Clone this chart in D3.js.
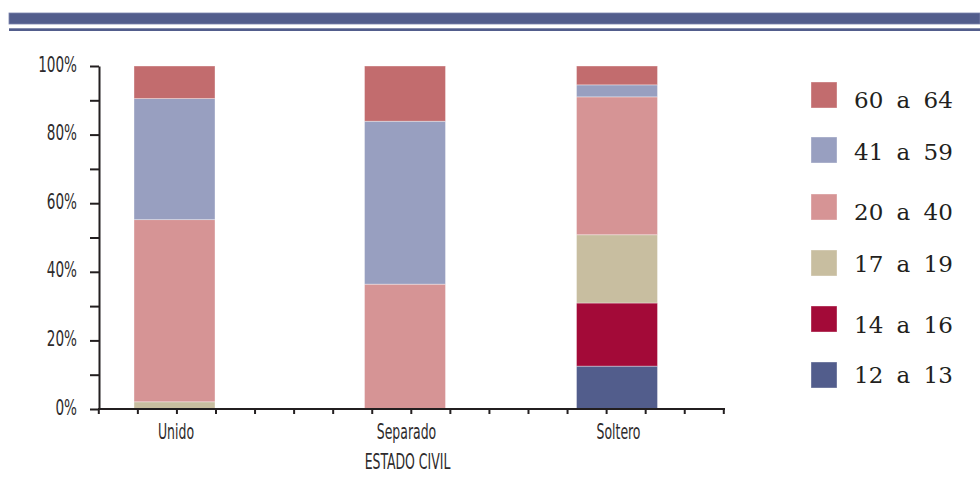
<!DOCTYPE html>
<html>
<head>
<meta charset="utf-8">
<script src="https://cdn.jsdelivr.net/npm/d3@7"></script>
<style>
  html, body { margin: 0; padding: 0; background: #fff; }
  svg { display: block; }
  .cond { font-family: "Liberation Sans Narrow", "Arial Narrow", "DejaVu Sans Condensed", sans-serif; fill: #2e2b2c; }
  .leg { font-family: "DejaVu Serif", serif; font-size: 23px; fill: #231f20; word-spacing: 6px; }
</style>
</head>
<body>
<svg id="chart" width="980" height="481"></svg>
<script>
// Estado civil por grupo de edad (porcentaje)
const categories = ["Unido", "Separado", "Soltero"];
const groups = ["12 a 13", "14 a 16", "17 a 19", "20 a 40", "41 a 59", "60 a 64"];
const g12a13 = [0, 0, 12.5];
const g14a16 = [0, 0, 18.4];
const g17a19 = [2.1, 0, 19.9];
const g20a40 = [53.1, 36.4, 40.2];
const g41a59 = [35.3, 47.5, 3.5];
const g60a64 = [9.5, 16.1, 5.5];
const yTicks = [0, 10, 20, 30, 40, 50, 60, 70, 80, 90, 100];
const yLabels = [0, 20, 40, 60, 80, 100];
const xTitle = "ESTADO CIVIL";

const seriesValues = [g12a13, g14a16, g17a19, g20a40, g41a59, g60a64];
const colors = ["#525d8c", "#a30a38", "#c8bea0", "#d69495", "#989fc0", "#c26c6e"];

const svg = d3.select("#chart");
const ink = "#231f20";

// header bands
svg.append("rect").attr("x", 9).attr("y", 13).attr("width", 971).attr("height", 11)
  .attr("fill", "#525d8c").attr("stroke", "#7a84ad").attr("stroke-width", 0.8);
svg.append("rect").attr("x", 9).attr("y", 28.3).attr("width", 971).attr("height", 2.7)
  .attr("fill", "#525d8c");

// scales
const y = d3.scaleLinear().domain([0, 100]).range([409, 66]);
const x = d3.scaleOrdinal().domain(categories).range([174.5, 405, 617]);
const xTicks = d3.scaleLinear().domain([0, 16]).range([98.3, 723.3]);
const barW = 81;

// stacked data
const table = categories.map((c, i) => {
  const row = { cat: c };
  groups.forEach((g, j) => { row[g] = seriesValues[j][i]; });
  return row;
});
const stacked = d3.stack().keys(groups)(table);
const color = d3.scaleOrdinal().domain(groups).range(colors);

const gBars = svg.append("g");
stacked.forEach(layer => {
  gBars.append("g").attr("fill", color(layer.key))
    .selectAll("rect").data(layer.filter(d => d[1] - d[0] > 0)).join("rect")
    .attr("x", d => x(d.data.cat) - barW / 2)
    .attr("width", barW)
    .attr("y", d => y(d[1]))
    .attr("height", d => y(d[0]) - y(d[1]))
    .attr("stroke", "rgba(255,255,255,0.45)")
    .attr("stroke-width", 0.8);
});

// y axis
const yAxis = svg.append("g").attr("transform", "translate(99,0)")
  .call(d3.axisLeft(y).tickValues(yTicks).tickSize(9).tickSizeOuter(0).tickFormat(""));
yAxis.selectAll("path, line").attr("stroke", ink).attr("stroke-width", 2);

yLabels.forEach(v => {
  svg.append("text").attr("class", "cond")
    .attr("transform", `translate(77,${y(v) + 5.5}) scale(0.72,1)`)
    .attr("text-anchor", "end").attr("font-size", 21)
    .text(v + "%");
});

// x axis
const xAxis = svg.append("g").attr("transform", "translate(0,409)")
  .call(d3.axisBottom(xTicks).ticks(16).tickSize(5).tickSizeOuter(0).tickFormat(""));
xAxis.select("path").attr("d", "M98,0H725");
xAxis.selectAll("path, line").attr("stroke", ink).attr("stroke-width", 2);

categories.forEach(c => {
  svg.append("text").attr("class", "cond")
    .attr("transform", `translate(${x(c) + 1.5},439) scale(0.66,1)`)
    .attr("text-anchor", "middle").attr("font-size", 21)
    .text(c);
});
svg.append("text").attr("class", "cond")
  .attr("transform", "translate(407.5,469) scale(0.66,1)")
  .attr("text-anchor", "middle").attr("font-size", 21)
  .text(xTitle);

// legend
const legendOrder = groups.slice().reverse();
const legTops = [82, 137, 194, 250, 306, 362];
const legBase = [108, 160, 220, 272, 333, 383];
const leg = svg.append("g");
legendOrder.forEach((g, i) => {
  leg.append("rect").attr("x", 811).attr("y", legTops[i])
    .attr("width", 26).attr("height", 26).attr("fill", color(g))
    .attr("stroke", "rgba(255,255,255,0.45)").attr("stroke-width", 0.8);
  leg.append("text").attr("class", "leg").attr("x", 854).attr("y", legBase[i]).text(g);
});
</script>
</body>
</html>
